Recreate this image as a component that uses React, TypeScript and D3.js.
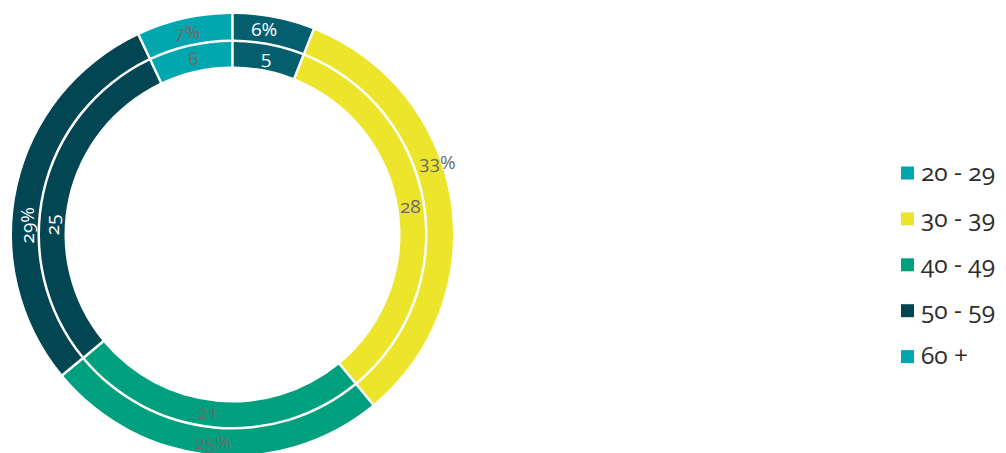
import { useMemo } from 'react'
import { arc, pie, PieArcDatum } from 'd3'

const AGE_GROUPS = ['20 - 29', '30 - 39', '40 - 49', '50 - 59', '60 +']
const COUNTS = [5, 28, 21, 25, 6]
const PERCENTS = [6, 33, 25, 29, 7]

const SLICE_COLORS = ['#035f6e', '#ede52b', '#00a07f', '#024654', '#00a7ae']
const LEGEND_COLORS = ['#00a7ae', '#ede52b', '#00a07f', '#024654', '#00a7ae']
const DARK = new Set([0, 3])

const W = 1006
const H = 453
const CX = 232.5
const CY = 234.5

// label nudges (degrees / px) to follow the original's label layout
const OUTER_NUDGE = [-2, -10.5, 0, -10, 0]
const OUTER_PUSH = [0, 10, 1, -2, 0]
const INNER_NUDGE = [0, 0, 2.5, -9.5, 0]

type Slice = PieArcDatum<number>

export default function App() {
  const slices = useMemo(
    () =>
      pie<number>()
        .sort(null)
        .value((d) => d)(PERCENTS),
    [],
  )

  const outer = arc<Slice>().innerRadius(195).outerRadius(220.5).padAngle(0.0125).padRadius(200)
  const inner = arc<Slice>().innerRadius(168).outerRadius(192.5).padAngle(0.0125).padRadius(200)

  const labelPos = (s: Slice, r: number, nudge: number) => {
    const a = (s.startAngle + s.endAngle) / 2 + (nudge * Math.PI) / 180
    return [Math.sin(a) * r, -Math.cos(a) * r]
  }

  const font = "'Open Sans', sans-serif"

  return (
    <svg
      width={W}
      height={H}
      viewBox={`0 0 ${W} ${H}`}
      style={{ position: 'absolute', left: 0, top: 0, fontVariantNumeric: 'oldstyle-nums' }}
      fontFamily={font}
    >
      <rect width={W} height={H} fill="#fff" />
      <g transform={`translate(${CX},${CY})`}>
        {slices.map((s, i) => (
          <path key={`o${i}`} d={outer(s) ?? ''} fill={SLICE_COLORS[i]} />
        ))}
        {slices.map((s, i) => (
          <path key={`i${i}`} d={inner(s) ?? ''} fill={SLICE_COLORS[i]} />
        ))}
        {slices.map((s, i) => {
          const [x, y] = labelPos(s, 207.5 + OUTER_PUSH[i], OUTER_NUDGE[i])
          const rot = i === 3 ? -90 : 0
          return (
            <text
              key={`ol${i}`}
              transform={`translate(${x},${y}) rotate(${rot})`}
              textAnchor="middle"
              dy="0.35em"
              fontSize={19}
              fill={DARK.has(i) ? '#fff' : '#6b6b6b'}
            >
              {`${PERCENTS[i]}%`}
            </text>
          )
        })}
        {slices.map((s, i) => {
          const [x, y] = labelPos(s, 180, INNER_NUDGE[i])
          const rot = i === 3 ? -90 : 0
          return (
            <text
              key={`il${i}`}
              transform={`translate(${x},${y}) rotate(${rot})`}
              textAnchor="middle"
              dy="0.35em"
              fontSize={19}
              fill={DARK.has(i) ? '#fff' : '#6b6b6b'}
            >
              {COUNTS[i]}
            </text>
          )
        })}
      </g>
      <g transform="translate(901,173)">
        {AGE_GROUPS.map((g, i) => (
          <g key={g} transform={`translate(0,${i * 45.9})`}>
            <rect x={0} y={-6.5} width={13} height={13} fill={LEGEND_COLORS[i]} />
            <text x={20} dy="0.32em" fontSize={24.5} fill="#2e2e2e">
              {g}
            </text>
          </g>
        ))}
      </g>
    </svg>
  )
}
